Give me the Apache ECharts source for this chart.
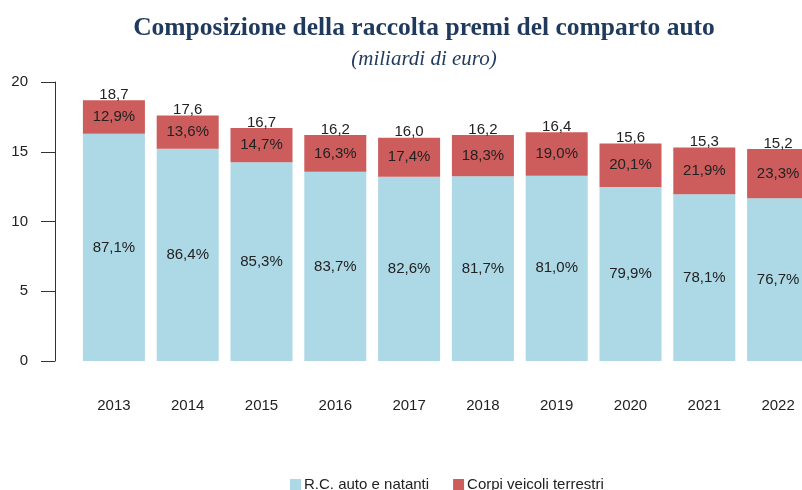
<!DOCTYPE html>
<html>
<head>
<meta charset="utf-8">
<script src="https://cdn.jsdelivr.net/npm/echarts@6/dist/echarts.min.js"></script>
<style>
  html, body { margin: 0; padding: 0; background: #fff; }
  #chart { width: 802px; height: 490px; }
</style>
</head>
<body>
<div id="chart"></div>
<script>
const years = ["2013", "2014", "2015", "2016", "2017", "2018", "2019", "2020", "2021", "2022"];
const totals = [18.7, 17.6, 16.7, 16.2, 16.0, 16.2, 16.4, 15.6, 15.3, 15.2];
const rcShare = [87.1, 86.4, 85.3, 83.7, 82.6, 81.7, 81.0, 79.9, 78.1, 76.7];
const corpiShare = [12.9, 13.6, 14.7, 16.3, 17.4, 18.3, 19.0, 20.1, 21.9, 23.3];

// split each total by its share
const rcValues = totals.map((t, i) => t * rcShare[i] / 100);
const corpiValues = totals.map((t, i) => t * corpiShare[i] / 100);

const comma = (v, d) => v.toFixed(d).replace(".", ",");

const chart = echarts.init(document.getElementById("chart"));

const option = {
  animation: false,
  title: {
    text: "Composizione della raccolta premi del comparto auto",
    subtext: "(miliardi di euro)",
    left: 419,
    textAlign: "center",
    top: 10,
    itemGap: 8,
    textStyle: {
      fontFamily: "Liberation Serif",
      fontWeight: "bold",
      fontSize: 25.5,
      color: "#1f3a5c",
    },
    subtextStyle: {
      fontFamily: "Liberation Serif",
      fontStyle: "italic",
      fontSize: 21,
      color: "#1f3a5c",
    },
  },
  legend: {
    data: ["R.C. auto e natanti", "Corpi veicoli terrestri"],
    top: 472,
    left: 285,
    itemWidth: 11,
    itemHeight: 11,
    itemGap: 24,
    icon: "rect",
    textStyle: {
      fontFamily: "Liberation Sans",
      fontSize: 15,
      color: "#222",
      padding: [0, 0, 0, -2],
    },
  },
  grid: {
    left: 77,
    width: 738,
    top: 82,
    bottom: 129,
    outerBoundsMode: "none",
  },
  xAxis: {
    type: "category",
    data: years,
    axisLine: { show: false },
    axisTick: { show: false },
    axisLabel: {
      margin: 37,
      fontFamily: "Liberation Sans",
      fontSize: 15,
      color: "#222",
    },
  },
  yAxis: {
    type: "value",
    min: 0,
    max: 20,
    interval: 5,
    offset: 22,
    splitLine: { show: false },
    axisLine: { show: true, lineStyle: { color: "#333", width: 1 } },
    axisTick: { show: true, length: 14, lineStyle: { color: "#333" } },
    axisLabel: {
      margin: 27,
      fontFamily: "Liberation Sans",
      fontSize: 15,
      color: "#222",
    },
  },
  series: [
    {
      name: "R.C. auto e natanti",
      type: "bar",
      stack: "tot",
      barWidth: 62,
      data: rcValues,
      itemStyle: { color: "#add8e6" },
      label: {
        show: true,
        position: "inside",
        fontFamily: "Liberation Sans",
        fontSize: 15,
        color: "#222",
        formatter: (p) => comma(rcShare[p.dataIndex], 1) + "%",
      },
    },
    {
      name: "Corpi veicoli terrestri",
      type: "bar",
      stack: "tot",
      data: corpiValues,
      itemStyle: { color: "#cd5c5c" },
      label: {
        show: true,
        position: "inside",
        fontFamily: "Liberation Sans",
        fontSize: 15,
        color: "#222",
        formatter: (p) => comma(corpiShare[p.dataIndex], 1) + "%",
      },
    },
    {
      name: "Totale",
      type: "bar",
      stack: "tot",
      data: totals.map(() => 0),
      itemStyle: { color: "transparent" },
      label: {
        show: true,
        position: "top",
        distance: -2,
        fontFamily: "Liberation Sans",
        fontSize: 15,
        color: "#222",
        formatter: (p) => comma(totals[p.dataIndex], 1),
      },
    },
  ],
};

chart.setOption(option);
</script>
</body>
</html>
